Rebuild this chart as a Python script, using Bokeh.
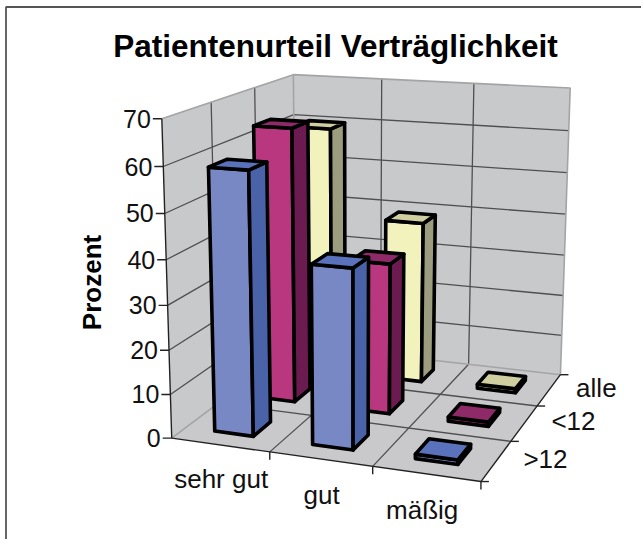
import numpy as np
from bokeh.plotting import figure
from bokeh.models import ColumnDataSource
from bokeh.core.properties import value
from bokeh.embed import file_html
from bokeh.resources import INLINE

title_text = "Patientenurteil Verträglichkeit"
axis_title = "Prozent"
categories = ["sehr gut", "gut", "mäßig"]
series = [">12", "<12", "alle"]
values_gt12 = [59, 40, 1]
values_lt12 = [64, 35, 1]
values_alle = [60, 39, 1]
y_ticks = [0, 10, 20, 30, 40, 50, 60, 70]
y_max = 70

front_colors = ["#7888c4", "#b8377f", "#f2f2bd"]
side_colors = ["#4a62a8", "#6b1b4f", "#9c9c7e"]
top_colors = ["#5a72bc", "#8e2a68", "#cfcfa2"]
WALL = "#c8c9cb"
FLOOR = "#c9c9cb"
EDGE = "#a3a4a6"
GRID = "#4f4f52"

# camera fitted to the corners of the chart's box: (x, height, depth) -> pixel
anchors = [
    ((0, 0, 0), (171, 437)), ((1, 0, 0), (480, 482)), ((1, 0, 1), (560, 373)),
    ((0, 0, 1), (296, 345)), ((0, 1, 0), (162, 118)), ((0, 1, 1), (292, 74)),
    ((1, 1, 1), (570, 88)),
]
A = []
for (X, Y, Z), (u, v) in anchors:
    A.append([X, Y, Z, 1, 0, 0, 0, 0, -u * X, -u * Y, -u * Z, -u])
    A.append([0, 0, 0, 0, X, Y, Z, 1, -v * X, -v * Y, -v * Z, -v])
CAM = np.linalg.svd(np.array(A, float))[2][-1].reshape(3, 4)


def proj(x, h, d):
    q = CAM @ np.array([x, h / y_max, d, 1.0])
    return float(q[0] / q[2]), float(q[1] / q[2])


def poly(points):
    pts = [proj(*pt) for pt in points]
    return [a for a, _ in pts], [b for _, b in pts]


W, H = 641, 539
p = figure(width=W, height=H, x_range=(0, W), y_range=(H, 0),
           output_backend="svg", toolbar_location=None, min_border=0)
p.axis.visible = False
p.grid.visible = False
p.outline_line_color = None
p.background_fill_color = "white"
p.styles = {"position": "absolute", "left": "0px", "top": "0px"}


def lines(segments, color, width):
    xs, ys = [], []
    for s in segments:
        a, b = poly(s)
        xs.append(a)
        ys.append(b)
    p.multi_line(xs, ys, line_color=color, line_width=width)


# outer chart frame
p.line([5.5, 5.5, 641], [539, 6.5, 6.5], line_color="#555555", line_width=1.8)

# walls and floor
for pts, col in [
    ([(0, 0, 0), (0, y_max, 0), (0, y_max, 1), (0, 0, 1)], WALL),
    ([(0, 0, 1), (0, y_max, 1), (1, y_max, 1), (1, 0, 1)], WALL),
    ([(0, 0, 0), (1, 0, 0), (1, 0, 1), (0, 0, 1)], FLOOR),
]:
    a, b = poly(pts)
    p.patch(a, b, fill_color=col, line_color=None)

# grid
n = len(categories)
grid = []
for t in y_ticks[1:-1]:
    grid.append([(0, t, 0), (0, t, 1), (1, t, 1)])
for i in range(1, n):
    grid.append([(i / n, 0, 0), (i / n, 0, 1), (i / n, y_max, 1)])
    grid.append([(0, y_max, i / n), (0, 0, i / n), (1, 0, i / n)])
lines(grid, GRID, 1.3)

# pale box edges
lines([[(0, 0, 0), (0, 0, 1), (1, 0, 1), (1, y_max, 1), (0, y_max, 1), (0, y_max, 0)],
       [(0, 0, 1), (0, y_max, 1)]], EDGE, 1.6)

# axes with ticks
lines([[(0, y_max, 0), (0, 0, 0), (1, 0, 0), (1, 0, 1)]], "#222222", 1.4)
tx, ty = [], []
for t in y_ticks:
    a, b = proj(0, t, 0)
    tx.append([a - 9, a])
    ty.append([b, b])
for i in range(1, n + 1):
    a, b = proj(i / n, 0, 0)
    tx.append([a, a])
    ty.append([b, b + 8])
for i in range(0, n + 1):
    a, b = proj(1, 0, i / n)
    tx.append([a, a + 8])
    ty.append([b, b])
p.multi_line(tx, ty, line_color="#222222", line_width=1.4)

# bars, painted from the back row to the front row
all_values = [values_gt12, values_lt12, values_alle]
BAR = 0.40
xs, ys, fills = [], [], []
for s in reversed(range(len(series))):
    for c in range(n):
        v = all_values[s][c]
        x0, x1 = (c + 0.5 - BAR / 2) / n, (c + 0.5 + BAR / 2) / n
        d0, d1 = (s + 0.5 - BAR / 2) / n, (s + 0.5 + BAR / 2) / n
        faces = [
            ([(x0, 0, d0), (x1, 0, d0), (x1, v, d0), (x0, v, d0)], front_colors[s]),
            ([(x1, 0, d0), (x1, 0, d1), (x1, v, d1), (x1, v, d0)], side_colors[s]),
            ([(x0, v, d0), (x1, v, d0), (x1, v, d1), (x0, v, d1)], top_colors[s]),
        ]
        for pts, col in faces:
            a, b = poly(pts)
            xs.append(a)
            ys.append(b)
            fills.append(col)
p.patches(xs="xs", ys="ys", fill_color="fills", line_color="black", line_width=3.6,
          line_join="round", source=ColumnDataSource(dict(xs=xs, ys=ys, fills=fills)))

FONT = value("Liberation Sans")
# value axis labels
tk = [proj(0, t, 0) for t in y_ticks]
p.text([a - 11 for a, _ in tk], [b for _, b in tk], text=[str(t) for t in y_ticks],
       text_font=FONT, text_font_size="25px", text_align="right",
       text_baseline="middle", text_color="#111111")
# category labels
cat_pos = [proj((i + 0.5) / n, 0, 0) for i in range(n)]
p.text([a + off for (a, _), off in zip(cat_pos, [1, 1, -4])],
       [b + off for (_, b), off in zip(cat_pos, [34, 36, 36])], text=categories,
       text_font=FONT, text_font_size="26px", text_align="center",
       text_baseline="middle", text_color="#111111")
# series labels
ser_pos = [proj(1, 0, (i + 0.5) / n) for i in range(len(series))]
p.text([a + 27 for a, _ in ser_pos], [b - 2 for _, b in ser_pos], text=series,
       text_font=FONT, text_font_size="26px", text_align="left",
       text_baseline="middle", text_color="#111111")
# titles
p.text([335], [45], text=[title_text], text_font=FONT, text_font_size="31.5px",
       text_font_style="bold", text_align="center", text_baseline="middle", text_color="black")
p.text([91], [282], text=[axis_title], text_font=FONT, text_font_size="26px",
       text_font_style="bold", text_align="center", text_baseline="middle",
       angle=np.pi / 2, text_color="black")

open("out.html", "w").write(file_html(p, INLINE))
